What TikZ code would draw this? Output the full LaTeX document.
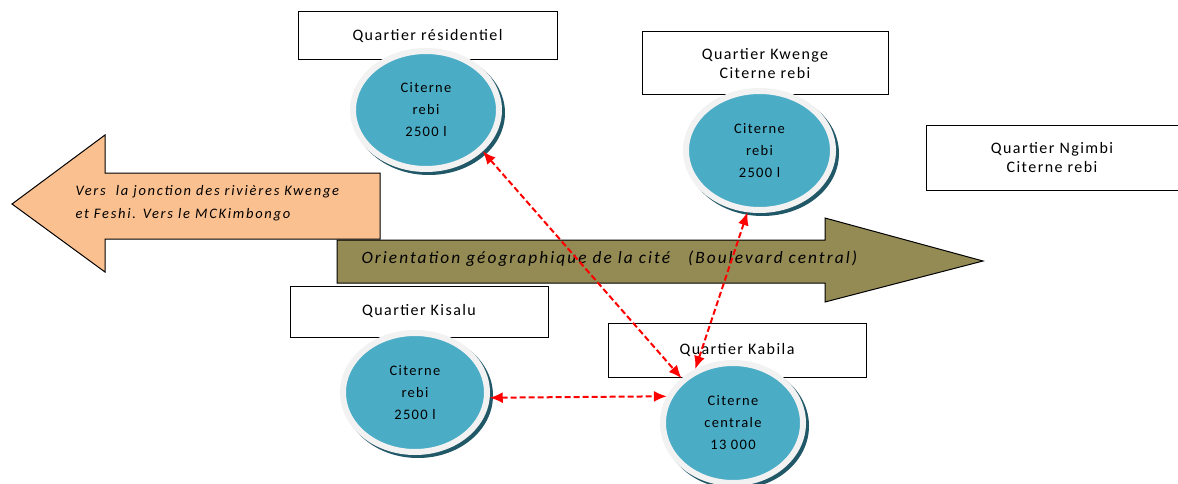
\documentclass[tikz,border=0pt]{standalone}
\usepackage{fontspec}
\setmainfont{Carlito}
\newfontfamily\lsfont[LetterSpace=9]{Carlito}
\newfontfamily\lswide[LetterSpace=12]{Carlito}
\usetikzlibrary{shapes.geometric,arrows.meta}
\definecolor{cblue}{RGB}{75,172,198}
\definecolor{cshadow}{RGB}{33,88,104}
\definecolor{crim}{RGB}{242,242,242}
\definecolor{corange}{RGB}{250,192,144}
\definecolor{colive}{RGB}{148,138,84}
\tikzset{
  qbox/.style={draw=black, line width=1pt, fill=white, inner sep=0pt, align=center,
    font=\fontsize{16}{19}\selectfont\lsfont},
  tank/.style={ellipse, fill=cblue, draw=crim, line width=6pt, inner sep=0pt,
    minimum width=146pt, minimum height=118pt, align=center,
    font=\fontsize{14.5}{22}\selectfont\lsfont,
    preaction={fill=cshadow, draw=cshadow, transform canvas={shift={(3pt,-3pt)}}}},
  link/.style={red, line width=2pt, dash pattern=on 6pt off 3pt, {Latex[length=13pt,width=11pt]}-{Latex[length=13pt,width=11pt]}},
  blockarrow/.style={draw=black, line width=1pt}
}
\begin{document}
\begin{tikzpicture}[x=1pt,y=-1pt]
\useasboundingbox (0,0) rectangle (1178,484);
\clip (0,0) rectangle (1178,484);
% big arrows
\draw[blockarrow, fill=corange] (12,204) -- (105,135) -- (105,173) -- (380,173) -- (380,239) -- (105,239) -- (105,272) -- cycle;
\node[font=\fontsize{14.5}{23}\selectfont\itshape\lswide, align=left, anchor=west] (vers) at (72,203) {Vers\ \ la jonction des rivières Kwenge\\et Feshi. Vers le MCKimbongo};
\draw[blockarrow, fill=colive] (337,240) -- (825,240) -- (825,218) -- (983,261) -- (825,302) -- (825,283) -- (337,283) -- cycle;
\node[font=\fontsize{17.3}{18}\selectfont\itshape\lswide, anchor=west] (orient) at (358,259) {Orientation géographique de la cité\ \ \ (Boulevard central)};
% boxes
\node[qbox, minimum width=259pt, minimum height=48pt] (bres) at (427.5,36) {Quartier résidentiel};
\node[qbox, minimum width=246pt, minimum height=63pt] (bkw) at (765,63.5) {Quartier Kwenge\\Citerne rebi};
\node[qbox, minimum width=252pt, minimum height=64pt] (bng) at (1052,158) {Quartier Ngimbi\\Citerne rebi};
\node[qbox, minimum width=258pt, minimum height=51pt] (bki) at (419,311.5) {Quartier Kisalu};
\node[qbox, minimum width=258pt, minimum height=54pt] (bka) at (737,350) {Quartier Kabila};
% tanks
\node[tank] (tres) at (426,110) {Citerne\\rebi\\2500 l};
\node[tank, minimum width=147pt, minimum height=119pt] (tkw) at (759.5,150.5) {Citerne\\rebi\\2500 l};
\node[tank, minimum width=144pt, minimum height=119pt] (tki) at (415,392.5) {Citerne\\rebi\\2500 l};
\node[tank, minimum width=140pt, minimum height=120pt] (tka) at (733,423) {Citerne\\centrale\\13 000};
% links
\draw[link] (tres.-36) -- (tka.139);
\draw[link] (tkw.-101) -- (tka.125);
\draw[link] (tki.-4) -- (tka.158);
\end{tikzpicture}
\end{document}
